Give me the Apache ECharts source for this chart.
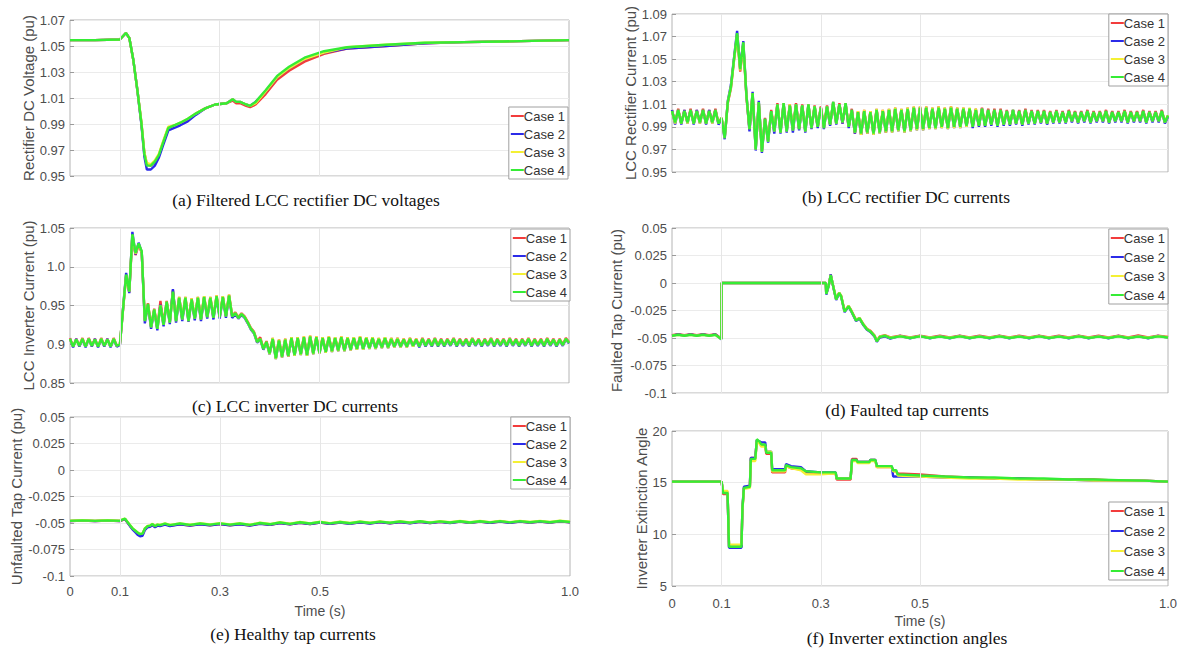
<!DOCTYPE html>
<html><head><meta charset="utf-8">
<script src="https://cdn.jsdelivr.net/npm/echarts@6.0.0/dist/echarts.min.js"></script>
<style>html,body{margin:0;padding:0;background:#fff}#c{width:1184px;height:653px}</style>
</head><body><div id="c"></div>
<script>
// ---------------- DATA ----------------
const CASES = ['Case 1', 'Case 2', 'Case 3', 'Case 4'];
const X_TICK_LABELS = ['0', '0.1', '0.3', '0.5', '1.0'];
const X_GRID = [0.1, 0.3, 0.5];
const Y_TICKS_A = ['0.95', '0.97', '0.99', '1.01', '1.03', '1.05', '1.07'];
const Y_TICKS_B = ['0.95', '0.97', '0.99', '1.01', '1.03', '1.05', '1.07', '1.09'];
const Y_TICKS_C = ['0.85', '0.9', '0.95', '1.0', '1.05'];
const Y_TICKS_D = ['-0.1', '-0.075', '-0.05', '-0.025', '0', '0.025', '0.05'];
const Y_TICKS_E = ['-0.1', '-0.075', '-0.05', '-0.025', '0', '0.025', '0.05'];
const Y_TICKS_F = ['5', '10', '15', '20'];
const Y_NAMES = ['Rectifier DC Voltage (pu)', 'LCC Rectifier Current (pu)', 'LCC Inverter Current (pu)',
  'Faulted Tap Current (pu)', 'Unfaulted Tap Current (pu)', 'Inverter Extinction Angle'];
const CAPTIONS = ['(a) Filtered LCC rectifier DC voltages', '(b) LCC rectifier DC currents',
  '(c) LCC inverter DC currents', '(d) Faulted tap currents', '(e) Healthy tap currents', '(f) Inverter extinction angles'];
const X_NAME = 'Time (s)';

// (a) rectifier DC voltage
const tA = [0,0.05,0.1,0.112,0.119,0.127,0.135,0.143,0.149,0.154,0.162,0.17,0.178,0.186,0.197,0.209,0.221,0.236,0.252,0.271,0.291,0.314,0.326,0.333,0.341,0.353,0.361,0.372,0.392,0.415,0.439,0.47,0.509,0.555,0.633,0.711,0.789,0.867,1.0];
const a1 = [1.0545,1.0545,1.055,1.060,1.056,1.039,1.016,0.991,0.968,0.959,0.958,0.961,0.966,0.975,0.987,0.989,0.990,0.993,0.998,1.002,1.005,1.006,1.008,1.006,1.006,1.004,1.003,1.005,1.013,1.024,1.031,1.038,1.044,1.048,1.050,1.052,1.053,1.0535,1.0545];
const a2 = [1.0545,1.0545,1.055,1.060,1.056,1.039,1.016,0.990,0.965,0.955,0.955,0.958,0.964,0.973,0.985,0.987,0.989,0.992,0.997,1.002,1.005,1.006,1.009,1.007,1.007,1.005,1.004,1.007,1.015,1.026,1.033,1.040,1.045,1.048,1.050,1.052,1.053,1.0535,1.0545];
const a3 = [1.0545,1.0545,1.055,1.060,1.056,1.039,1.016,0.992,0.968,0.960,0.959,0.962,0.967,0.976,0.988,0.989,0.991,0.994,0.998,1.002,1.005,1.006,1.009,1.007,1.007,1.005,1.004,1.006,1.015,1.026,1.033,1.040,1.045,1.049,1.051,1.0525,1.053,1.0535,1.0545];
const a4 = [1.0545,1.0545,1.055,1.060,1.056,1.039,1.016,0.991,0.967,0.958,0.958,0.961,0.966,0.975,0.987,0.989,0.991,0.994,0.998,1.002,1.005,1.006,1.009,1.007,1.007,1.005,1.004,1.007,1.016,1.027,1.034,1.041,1.046,1.049,1.051,1.0525,1.053,1.0535,1.0545];

// (b) and (c): sampled every DT_BC seconds from 0 to 1 s
const DT_BC = 0.00625;
const b1 = [1.005,0.994,1.006,0.993,1.005,0.994,1.006,0.993,1.005,0.994,1.006,0.993,1.005,0.994,1.006,0.993,
0.998,0.981,1.011,1.024,1.049,1.071,1.039,1.063,1.017,0.987,1.019,0.971,1.011,0.969,0.998,0.978,
1.005,0.987,1.011,0.986,1.010,0.987,1.010,0.988,1.011,0.988,1.010,0.987,1.009,0.989,1.009,0.990,
1.008,0.990,1.009,0.992,1.011,0.993,1.011,0.993,1.010,0.990,1.006,0.984,1.004,0.983,1.005,0.984,
1.004,0.984,1.006,0.985,1.005,0.985,1.006,0.986,1.007,0.987,1.006,0.986,1.007,0.987,1.008,0.988,
1.008,0.988,1.008,0.989,1.007,0.989,1.008,0.990,1.007,0.989,1.008,0.990,1.007,0.990,1.007,0.991,
1.006,0.991,1.006,0.991,1.007,0.991,1.006,0.992,1.006,0.991,1.006,0.992,1.005,0.992,1.005,0.993,
1.005,0.992,1.006,0.993,1.005,0.993,1.005,0.994,1.005,0.993,1.004,0.994,1.005,0.994,1.004,0.994,
1.005,0.995,1.004,0.994,1.004,0.995,1.005,0.994,1.004,0.995,1.004,0.995,1.005,0.994,1.004,0.995,
1.004,0.995,1.005,0.994,1.004,0.995,1.004,0.995,1.005,0.994,1.004,0.995,1.004,0.995,1.005,0.994,
1.000];
const b2 = [1.005,0.992,1.005,0.992,1.005,0.993,1.005,0.992,1.005,0.993,1.005,0.992,1.005,0.993,1.005,0.992,
0.997,0.979,1.013,1.027,1.051,1.075,1.042,1.066,1.019,0.986,1.021,0.969,1.013,0.967,0.997,0.976,
1.004,0.984,1.010,0.984,1.011,0.985,1.009,0.985,1.010,0.987,1.009,0.985,1.010,0.988,1.008,0.989,
1.007,0.988,1.008,0.991,1.012,0.992,1.010,0.993,1.011,0.989,1.005,0.984,1.003,0.983,1.004,0.984,
1.003,0.983,1.005,0.984,1.004,0.985,1.005,0.985,1.006,0.986,1.005,0.985,1.006,0.986,1.007,0.987,
1.007,0.987,1.007,0.988,1.006,0.988,1.007,0.989,1.006,0.988,1.007,0.989,1.006,0.989,1.006,0.990,
1.006,0.989,1.005,0.990,1.006,0.990,1.005,0.991,1.005,0.990,1.005,0.991,1.004,0.991,1.005,0.992,
1.004,0.991,1.005,0.992,1.004,0.992,1.004,0.993,1.004,0.992,1.003,0.993,1.004,0.993,1.003,0.993,
1.004,0.994,1.003,0.993,1.003,0.994,1.004,0.993,1.003,0.994,1.003,0.994,1.004,0.993,1.003,0.994,
1.003,0.994,1.004,0.993,1.003,0.994,1.003,0.994,1.004,0.993,1.003,0.994,1.003,0.994,1.004,0.993,
0.999];
const b3 = [1.004,0.993,1.005,0.993,1.004,0.993,1.005,0.993,1.004,0.993,1.005,0.993,1.004,0.993,1.005,0.993,
0.998,0.980,1.012,1.025,1.049,1.072,1.040,1.064,1.018,0.988,1.020,0.970,1.012,0.968,0.997,0.977,
1.004,0.986,1.010,0.985,1.011,0.986,1.010,0.987,1.010,0.988,1.009,0.986,1.010,0.989,1.008,0.990,
1.007,0.989,1.008,0.992,1.012,0.993,1.010,0.994,1.011,0.990,1.005,0.985,1.004,0.983,1.005,0.984,
1.004,0.983,1.006,0.984,1.005,0.985,1.006,0.985,1.007,0.986,1.006,0.985,1.007,0.986,1.008,0.987,
1.008,0.987,1.008,0.988,1.007,0.988,1.008,0.989,1.007,0.988,1.008,0.989,1.007,0.989,1.007,0.990,
1.007,0.990,1.006,0.991,1.006,0.991,1.005,0.992,1.005,0.991,1.005,0.992,1.004,0.992,1.005,0.993,
1.004,0.992,1.005,0.993,1.004,0.993,1.004,0.994,1.004,0.993,1.003,0.994,1.004,0.994,1.003,0.994,
1.004,0.995,1.003,0.994,1.003,0.995,1.004,0.994,1.003,0.995,1.003,0.995,1.004,0.994,1.003,0.995,
1.003,0.995,1.004,0.994,1.003,0.995,1.003,0.995,1.004,0.994,1.003,0.995,1.003,0.995,1.004,0.994,
1.000];
const b4 = [1.004,0.994,1.005,0.993,1.004,0.994,1.005,0.993,1.004,0.994,1.005,0.993,1.004,0.994,1.005,0.993,
0.998,0.980,1.012,1.025,1.050,1.073,1.041,1.065,1.018,0.988,1.020,0.970,1.012,0.968,0.997,0.977,
1.004,0.986,1.010,0.985,1.011,0.986,1.009,0.987,1.010,0.988,1.009,0.986,1.010,0.989,1.008,0.990,
1.007,0.989,1.008,0.992,1.012,0.993,1.010,0.994,1.011,0.990,1.005,0.985,1.003,0.984,1.004,0.985,
1.003,0.984,1.005,0.985,1.004,0.986,1.005,0.986,1.006,0.987,1.005,0.986,1.006,0.987,1.007,0.988,
1.007,0.988,1.007,0.989,1.006,0.989,1.007,0.990,1.006,0.989,1.007,0.990,1.006,0.990,1.006,0.991,
1.006,0.990,1.005,0.991,1.006,0.991,1.005,0.992,1.005,0.991,1.005,0.992,1.004,0.992,1.005,0.993,
1.004,0.992,1.005,0.993,1.004,0.993,1.004,0.994,1.004,0.993,1.003,0.994,1.004,0.994,1.003,0.994,
1.004,0.995,1.003,0.994,1.003,0.995,1.004,0.994,1.003,0.995,1.003,0.995,1.004,0.994,1.003,0.995,
1.003,0.995,1.004,0.994,1.003,0.995,1.003,0.995,1.004,0.994,1.003,0.995,1.003,0.995,1.004,0.994,
1.000];

const c1 = [0.908,0.897,0.907,0.898,0.908,0.897,0.908,0.898,0.907,0.897,0.908,0.898,0.907,0.897,0.908,0.898,
0.900,0.944,0.989,0.967,1.040,1.015,1.028,1.018,0.931,0.953,0.923,0.946,0.921,0.956,0.926,0.956,
0.929,0.970,0.931,0.961,0.933,0.961,0.931,0.959,0.934,0.961,0.933,0.962,0.936,0.961,0.935,0.963,
0.936,0.962,0.937,0.964,0.937,0.941,0.935,0.940,0.936,0.929,0.921,0.916,0.904,0.909,0.895,0.904,
0.889,0.908,0.883,0.906,0.885,0.907,0.884,0.909,0.887,0.909,0.888,0.910,0.887,0.911,0.889,0.910,
0.890,0.909,0.891,0.910,0.892,0.909,0.893,0.910,0.893,0.909,0.894,0.909,0.895,0.910,0.895,0.909,
0.896,0.909,0.896,0.908,0.897,0.909,0.897,0.908,0.898,0.908,0.898,0.907,0.898,0.908,0.899,0.907,
0.898,0.908,0.899,0.907,0.899,0.908,0.899,0.907,0.899,0.907,0.900,0.908,0.899,0.907,0.900,0.907,
0.899,0.908,0.900,0.907,0.899,0.907,0.900,0.908,0.899,0.907,0.900,0.907,0.899,0.908,0.900,0.907,
0.899,0.907,0.900,0.908,0.899,0.907,0.900,0.907,0.899,0.908,0.900,0.907,0.899,0.907,0.900,0.908,
0.903];
const c2 = [0.907,0.896,0.907,0.897,0.906,0.896,0.907,0.897,0.907,0.896,0.906,0.897,0.907,0.896,0.906,0.897,
0.899,0.946,0.992,0.966,1.045,1.016,1.031,1.019,0.927,0.951,0.920,0.944,0.918,0.951,0.923,0.954,
0.926,0.971,0.928,0.959,0.930,0.959,0.929,0.957,0.931,0.959,0.930,0.960,0.933,0.959,0.932,0.961,
0.933,0.960,0.934,0.962,0.934,0.939,0.933,0.938,0.934,0.927,0.919,0.914,0.902,0.906,0.893,0.902,
0.887,0.906,0.881,0.904,0.883,0.905,0.884,0.907,0.885,0.907,0.886,0.908,0.885,0.909,0.887,0.908,
0.888,0.907,0.889,0.908,0.890,0.907,0.891,0.908,0.891,0.907,0.892,0.907,0.893,0.908,0.893,0.907,
0.894,0.907,0.894,0.906,0.895,0.907,0.895,0.906,0.896,0.906,0.896,0.905,0.896,0.906,0.897,0.905,
0.896,0.906,0.897,0.905,0.897,0.906,0.897,0.905,0.897,0.905,0.898,0.906,0.897,0.905,0.898,0.905,
0.897,0.906,0.898,0.905,0.897,0.905,0.898,0.906,0.897,0.905,0.898,0.905,0.897,0.906,0.898,0.905,
0.897,0.905,0.898,0.906,0.897,0.905,0.898,0.905,0.897,0.906,0.898,0.905,0.897,0.905,0.898,0.906,
0.901];
const c3 = [0.907,0.897,0.906,0.898,0.907,0.897,0.907,0.898,0.906,0.897,0.907,0.898,0.906,0.897,0.907,0.898,
0.900,0.945,0.989,0.968,1.041,1.017,1.029,1.019,0.930,0.952,0.922,0.945,0.920,0.950,0.925,0.955,
0.928,0.967,0.930,0.961,0.932,0.961,0.930,0.959,0.933,0.961,0.932,0.962,0.935,0.961,0.934,0.963,
0.935,0.962,0.936,0.964,0.936,0.940,0.934,0.939,0.935,0.928,0.920,0.915,0.903,0.907,0.894,0.903,
0.887,0.908,0.881,0.906,0.883,0.907,0.884,0.909,0.885,0.909,0.886,0.910,0.885,0.911,0.887,0.910,
0.888,0.909,0.889,0.910,0.890,0.909,0.891,0.910,0.891,0.909,0.892,0.909,0.893,0.910,0.893,0.909,
0.894,0.909,0.894,0.908,0.895,0.909,0.895,0.908,0.896,0.908,0.896,0.907,0.896,0.908,0.897,0.907,
0.897,0.907,0.898,0.906,0.898,0.907,0.898,0.906,0.898,0.906,0.899,0.907,0.898,0.906,0.899,0.906,
0.898,0.907,0.899,0.906,0.898,0.906,0.899,0.907,0.898,0.906,0.899,0.906,0.898,0.907,0.899,0.906,
0.898,0.906,0.899,0.907,0.898,0.906,0.899,0.906,0.898,0.907,0.899,0.906,0.898,0.906,0.899,0.907,
0.902];
const c4 = [0.907,0.897,0.906,0.898,0.907,0.897,0.907,0.898,0.906,0.897,0.907,0.898,0.906,0.897,0.907,0.898,
0.900,0.945,0.990,0.968,1.042,1.018,1.030,1.020,0.930,0.952,0.922,0.945,0.920,0.950,0.925,0.955,
0.928,0.968,0.930,0.960,0.932,0.960,0.930,0.958,0.933,0.960,0.932,0.961,0.935,0.960,0.934,0.962,
0.935,0.961,0.936,0.963,0.936,0.940,0.934,0.939,0.935,0.928,0.920,0.915,0.903,0.907,0.894,0.903,
0.888,0.907,0.882,0.905,0.884,0.906,0.885,0.908,0.886,0.908,0.887,0.909,0.886,0.910,0.888,0.909,
0.889,0.908,0.890,0.909,0.891,0.908,0.892,0.909,0.892,0.908,0.893,0.908,0.894,0.909,0.894,0.908,
0.895,0.908,0.895,0.907,0.896,0.908,0.896,0.907,0.897,0.907,0.897,0.906,0.897,0.907,0.898,0.906,
0.897,0.907,0.898,0.906,0.898,0.907,0.898,0.906,0.898,0.906,0.899,0.907,0.898,0.906,0.899,0.906,
0.898,0.907,0.899,0.906,0.898,0.906,0.899,0.907,0.898,0.906,0.899,0.906,0.898,0.907,0.899,0.906,
0.898,0.906,0.899,0.907,0.898,0.906,0.899,0.906,0.898,0.907,0.899,0.906,0.898,0.906,0.899,0.907,
0.902];

// (d) faulted tap current
const tD = [0,0.0125,0.025,0.0375,0.05,0.0625,0.075,0.0875,0.0995,
0.1,0.2,0.31,
0.311,0.316,0.32,0.326,0.331,0.337,0.341,0.348,0.356,0.361,0.371,0.378,0.386,0.393,0.4,0.408,0.413,0.419,0.43,0.44,
0.46,0.48,0.5,0.52,0.54,0.56,0.58,0.6,0.62,0.64,0.66,0.68,0.7,0.72,0.74,0.76,0.78,0.8,0.82,0.84,0.86,0.88,0.9,0.92,0.94,0.96,0.98,1.0];
const d1 = [-0.0475,-0.0465,-0.0475,-0.0465,-0.0475,-0.0465,-0.0475,-0.0465,-0.0505,
0,0,0,
-0.010,-0.002,0.0075,-0.005,-0.0145,-0.009,-0.0115,-0.0255,-0.021,-0.0245,-0.0335,-0.032,-0.0375,-0.0415,-0.0435,-0.0475,-0.0525,-0.0485,-0.0475,-0.0495,
-0.0478,-0.0495,-0.0478,-0.0495,-0.0480,-0.0495,-0.0478,-0.0495,-0.0480,-0.0495,-0.0478,-0.0495,-0.0480,-0.0495,-0.0478,-0.0495,-0.0480,-0.0495,-0.0478,-0.0495,-0.0480,-0.0495,-0.0478,-0.0495,-0.0476,-0.0495,-0.0478,-0.0490];
const d2 = [-0.0478,-0.0468,-0.0478,-0.0468,-0.0478,-0.0468,-0.0478,-0.0468,-0.0512,
0,0,0,
-0.0105,-0.0025,0.008,-0.0055,-0.0155,-0.0095,-0.0125,-0.0265,-0.0215,-0.0255,-0.0345,-0.0325,-0.0385,-0.0425,-0.0445,-0.0485,-0.0535,-0.0495,-0.0485,-0.0505,
-0.0481,-0.0502,-0.0481,-0.0502,-0.0483,-0.0502,-0.0481,-0.0502,-0.0483,-0.0502,-0.0481,-0.0502,-0.0483,-0.0502,-0.0481,-0.0502,-0.0483,-0.0502,-0.0481,-0.0502,-0.0483,-0.0502,-0.0481,-0.0502,-0.0483,-0.0502,-0.0481,-0.0497];
const d3 = [-0.0478,-0.0472,-0.0478,-0.0472,-0.0478,-0.0472,-0.0478,-0.0472,-0.0508,
0,0,0,
-0.0095,-0.0018,0.0072,-0.0048,-0.0148,-0.0088,-0.0118,-0.0258,-0.0208,-0.0248,-0.0338,-0.0318,-0.0378,-0.0418,-0.0438,-0.0478,-0.0528,-0.0488,-0.0478,-0.0498,
-0.0483,-0.0498,-0.0483,-0.0498,-0.0485,-0.0498,-0.0483,-0.0498,-0.0485,-0.0498,-0.0483,-0.0498,-0.0485,-0.0498,-0.0483,-0.0498,-0.0485,-0.0498,-0.0483,-0.0498,-0.0485,-0.0498,-0.0483,-0.0498,-0.0485,-0.0498,-0.0483,-0.0493];
const d4 = [-0.048,-0.047,-0.048,-0.047,-0.048,-0.047,-0.048,-0.047,-0.051,
0,0,0,
-0.010,-0.002,0.007,-0.005,-0.015,-0.009,-0.012,-0.026,-0.021,-0.025,-0.034,-0.032,-0.038,-0.042,-0.044,-0.048,-0.053,-0.049,-0.048,-0.050,
-0.0485,-0.0500,-0.0485,-0.0500,-0.0487,-0.0500,-0.0485,-0.0500,-0.0487,-0.0500,-0.0485,-0.0500,-0.0487,-0.0500,-0.0485,-0.0500,-0.0487,-0.0500,-0.0485,-0.0500,-0.0487,-0.0500,-0.0485,-0.0500,-0.0487,-0.0500,-0.0485,-0.0495];

// (e) unfaulted tap current
const tE = [0,0.025,0.05,0.075,0.1,0.106,0.11,0.115,0.12,0.125,0.13,0.135,0.14,0.145,0.15,0.155,0.16,0.165,0.17,0.175,0.18,0.19,0.2,
0.22,0.24,0.26,0.28,0.3,0.32,0.34,0.36,0.38,0.4,
0.42,0.44,0.46,0.48,0.5,0.52,0.54,0.56,0.58,0.6,
0.62,0.64,0.66,0.68,0.7,0.72,0.74,0.76,0.78,0.8,
0.82,0.84,0.86,0.88,0.9,0.92,0.94,0.96,0.98,1.0];
const e1 = [-0.0482,-0.0478,-0.0482,-0.0478,-0.0482,-0.047,-0.0465,-0.0495,-0.0525,-0.0555,-0.0575,-0.0595,-0.061,-0.0605,-0.0555,-0.0535,-0.053,-0.0515,-0.0535,-0.052,-0.0525,-0.051,-0.0525,
-0.0512,-0.0523,-0.0511,-0.0521,-0.0509,-0.0521,-0.0511,-0.0523,-0.0506,-0.0517,
-0.0500,-0.0512,-0.0498,-0.0510,-0.0495,-0.0508,-0.0495,-0.0506,-0.0493,-0.0504,
-0.0491,-0.0502,-0.0490,-0.0501,-0.0488,-0.0500,-0.0489,-0.0499,-0.0487,-0.0499,
-0.0487,-0.0498,-0.0486,-0.0497,-0.0486,-0.0497,-0.0486,-0.0496,-0.0485,-0.0494];
const e2 = [-0.0481,-0.0477,-0.0481,-0.0477,-0.0481,-0.0468,-0.0463,-0.0495,-0.053,-0.056,-0.0585,-0.061,-0.0625,-0.062,-0.0565,-0.054,-0.0535,-0.052,-0.054,-0.0525,-0.053,-0.0515,-0.053,
-0.0512,-0.0525,-0.0512,-0.0522,-0.0510,-0.0522,-0.0512,-0.0524,-0.0507,-0.0518,
-0.0500,-0.0513,-0.0498,-0.0510,-0.0495,-0.0508,-0.0495,-0.0507,-0.0493,-0.0505,
-0.0491,-0.0503,-0.0490,-0.0502,-0.0488,-0.0500,-0.0489,-0.0500,-0.0487,-0.0499,
-0.0487,-0.0498,-0.0486,-0.0498,-0.0486,-0.0497,-0.0486,-0.0497,-0.0485,-0.0494];
const e3 = [-0.0479,-0.0474,-0.0479,-0.0474,-0.0479,-0.0464,-0.0459,-0.0488,-0.0518,-0.0548,-0.0568,-0.0588,-0.0602,-0.0598,-0.0548,-0.0528,-0.0523,-0.0508,-0.0528,-0.0513,-0.0518,-0.0503,-0.0518,
-0.0503,-0.0516,-0.0503,-0.0513,-0.0501,-0.0513,-0.0503,-0.0516,-0.0498,-0.0510,
-0.0493,-0.0506,-0.0491,-0.0503,-0.0488,-0.0501,-0.0488,-0.0500,-0.0486,-0.0498,
-0.0485,-0.0496,-0.0484,-0.0495,-0.0482,-0.0494,-0.0483,-0.0493,-0.0481,-0.0493,
-0.0481,-0.0492,-0.0480,-0.0492,-0.0480,-0.0491,-0.0480,-0.0491,-0.0479,-0.0488];
const e4 = [-0.048,-0.0475,-0.048,-0.0475,-0.048,-0.0465,-0.046,-0.049,-0.052,-0.055,-0.057,-0.059,-0.0605,-0.060,-0.055,-0.053,-0.0525,-0.051,-0.053,-0.0515,-0.052,-0.0505,-0.052,
-0.0505,-0.0518,-0.0505,-0.0515,-0.0503,-0.0515,-0.0505,-0.0518,-0.0500,-0.0512,
-0.0495,-0.0508,-0.0493,-0.0505,-0.0490,-0.0503,-0.0490,-0.0502,-0.0488,-0.0500,
-0.0487,-0.0498,-0.0486,-0.0497,-0.0484,-0.0496,-0.0485,-0.0495,-0.0483,-0.0495,
-0.0483,-0.0494,-0.0482,-0.0494,-0.0482,-0.0493,-0.0482,-0.0493,-0.0481,-0.0490];

// (f) inverter extinction angle
const tF = [0,0.1,0.103,0.112,0.115,0.14,0.142,0.145,0.157,0.159,0.168,0.171,0.176,0.18,0.188,0.19,0.2,0.202,0.228,0.23,0.24,0.26,0.27,0.3,0.33,0.332,0.36,0.363,0.372,0.374,0.398,0.4,0.41,0.413,0.443,0.446,0.452,0.455,0.5,0.55,0.6,0.65,0.7,0.75,0.8,0.85,0.9,0.95,1.0];
const f1 = [15.1,15.1,13.9,13.9,8.8,8.8,12.4,14.5,14.6,17.4,17.4,19.1,18.9,18.6,18.6,17.8,17.8,16.0,16.0,16.6,16.4,16.3,16.0,15.9,15.9,15.3,15.3,17.3,17.3,17.0,17.0,17.2,17.2,16.5,16.5,16.1,16.1,15.9,15.8,15.6,15.5,15.4,15.4,15.3,15.3,15.3,15.2,15.2,15.1];
const f2 = [15.1,15.1,14.1,14.1,8.7,8.7,12.6,14.6,14.7,17.4,17.4,19.1,19.0,18.9,18.9,18.0,18.0,16.3,16.3,16.8,16.6,16.5,16.1,16.0,16.0,15.4,15.4,17.2,17.2,17.0,17.0,17.2,17.2,16.6,16.6,15.6,15.6,15.6,15.6,15.5,15.5,15.4,15.4,15.3,15.3,15.2,15.2,15.2,15.1];
const f3 = [15.1,15.1,14.2,14.2,9.0,9.0,12.4,14.4,14.5,17.1,17.1,19.0,18.8,18.5,18.5,18.0,18.0,16.1,16.1,16.6,16.4,16.2,15.8,15.8,15.9,15.4,15.4,17.1,17.1,16.9,16.9,17.1,17.1,16.5,16.5,16.1,16.1,15.7,15.6,15.5,15.4,15.4,15.3,15.3,15.3,15.2,15.2,15.2,15.1];
const f4 = [15.1,15.1,14.0,14.0,8.8,8.8,12.5,14.5,14.6,17.3,17.3,19.2,19.0,18.7,18.7,17.9,17.9,16.2,16.2,16.7,16.5,16.4,16.1,16.0,16.0,15.4,15.4,17.2,17.2,17.0,17.0,17.2,17.2,16.6,16.6,16.2,16.2,15.8,15.7,15.6,15.5,15.5,15.4,15.4,15.3,15.3,15.25,15.2,15.1];

// ---------------- STYLE / LAYOUT ----------------
const COLORS = ['#f23c3c', '#2b2be8', '#f4f034', '#35ec35'];
const SANS = '"Liberation Sans", Arial, Helvetica, sans-serif';
const SERIF = '"Liberation Serif", "Times New Roman", serif';
const GRIDS = [
  {left: 70, top: 20, width: 499, height: 156},
  {left: 672, top: 14, width: 496, height: 158},
  {left: 70, top: 228, width: 499, height: 155},
  {left: 672, top: 228, width: 496, height: 165},
  {left: 70, top: 417, width: 500, height: 159},
  {left: 672, top: 431, width: 496, height: 155}
];
const Y_RANGE = [[0.95, 1.07, 0.02], [0.95, 1.09, 0.02], [0.85, 1.05, 0.05], [-0.1, 0.05, 0.025], [-0.1, 0.05, 0.025], [5, 20, 5]];
const Y_TICKS = [Y_TICKS_A, Y_TICKS_B, Y_TICKS_C, Y_TICKS_D, Y_TICKS_E, Y_TICKS_F];
const Y_NAME_GAP = [34, 33, 29, 48, 43, 19];
const LEGEND_POS = [
  {right: 616, top: 107, gap: 4},
  {right: 16, top: 14, gap: 4},
  {right: 614, top: 229, gap: 4},
  {right: 16, top: 229, gap: 5},
  {right: 614, top: 417, gap: 4},
  {right: 16, top: 502, gap: 6}
];
const CAPTION_POS = [[306, 200], [906, 197], [295, 406], [907, 410], [293, 634], [907, 638]];

function fmt(labels) {
  const vals = labels.map(Number);
  return v => { for (let k = 0; k < vals.length; k++) if (Math.abs(vals[k] - v) < 1e-6) return labels[k]; return ''; };
}
function pairs(t, v) { return t.map((x, i) => [x, v[i]]); }

const T_BC = b4.map((_, i) => +(i * DT_BC).toFixed(5));
const PANEL_DATA = [
  [tA, [a1, a2, a3, a4]],
  [T_BC, [b1, b2, b3, b4]],
  [T_BC, [c1, c2, c3, c4]],
  [tD, [d1, d2, d3, d4]],
  [tE, [e1, e2, e3, e4]],
  [tF, [f1, f2, f3, f4]]
];

const grid = [], xAxis = [], yAxis = [], series = [], legend = [];
GRIDS.forEach((g, i) => {
  grid.push(Object.assign({show: true, borderColor: '#b4b4b4', borderWidth: 1, backgroundColor: '#fff', containLabel: false}, g));
  const hasX = i >= 4;
  xAxis.push({
    gridIndex: i, type: 'value', min: 0, max: 1, interval: 0.1,
    axisLine: {show: false}, splitLine: {show: false},
    axisTick: {show: true, inside: true, length: 4, customValues: X_GRID, lineStyle: {color: '#9a9a9a'}},
    axisLabel: {show: hasX, customValues: X_TICK_LABELS.map(Number), formatter: fmt(X_TICK_LABELS),
      color: '#4d4d4d', fontSize: 13, fontFamily: SANS, margin: i === 4 ? 9 : 11},
    name: hasX ? X_NAME : '', nameLocation: 'middle', nameGap: i === 4 ? 28 : 28,
    nameTextStyle: {color: '#4d4d4d', fontSize: 14, fontFamily: SANS}
  });
  const yr = Y_RANGE[i];
  yAxis.push({
    gridIndex: i, type: 'value', min: yr[0], max: yr[1], interval: yr[2],
    axisLine: {show: false},
    axisTick: {show: true, inside: true, length: 4, lineStyle: {color: '#9a9a9a'}},
    splitLine: {show: true, lineStyle: {color: '#ebebeb', width: 1}},
    axisLabel: {formatter: fmt(Y_TICKS[i]), color: '#4d4d4d', fontSize: 13, fontFamily: SANS, margin: 5},
    name: Y_NAMES[i], nameLocation: 'middle', nameGap: Y_NAME_GAP[i], nameRotate: 90,
    nameTextStyle: {color: '#4d4d4d', fontSize: 15, fontFamily: SANS}
  });
  // vertical grid lines at selected times
  series.push({
    type: 'line', xAxisIndex: i, yAxisIndex: i, data: [], silent: true, z: 1, animation: false,
    markLine: {silent: true, symbol: ['none', 'none'], animation: false, label: {show: false},
      lineStyle: {color: '#e6e6e6', type: 'solid', width: 1},
      data: X_GRID.map(x => ({xAxis: x}))}
  });
  const [t, cs] = PANEL_DATA[i];
  cs.forEach((v, k) => {
    series.push({
      type: 'line', name: CASES[k], xAxisIndex: i, yAxisIndex: i, data: pairs(t, v),
      symbol: 'none', showSymbol: false, animation: false, silent: true, z: 3,
      lineStyle: {width: 2.4, color: COLORS[k]}, itemStyle: {color: COLORS[k]}
    });
  });
  const lp = LEGEND_POS[i];
  legend.push({
    orient: 'vertical', right: lp.right, top: lp.top, itemGap: lp.gap, data: CASES,
    selectedMode: false, backgroundColor: '#fff', borderColor: '#a0a0a0', borderWidth: 1,
    borderRadius: 0, padding: [2, 3, 2, 2], icon: 'rect', itemWidth: 13, itemHeight: 2,
    textStyle: {fontFamily: SANS, fontSize: 13, color: '#333', lineHeight: 14, padding: [0, 0, 0, -5]}
  });
});

const graphic = CAPTIONS.map((c, i) => ({
  type: 'text', x: CAPTION_POS[i][0], y: CAPTION_POS[i][1], silent: true,
  style: {text: c, fill: '#111', font: '17.5px ' + SERIF, align: 'center', verticalAlign: 'middle'}
}));

const chart = echarts.init(document.getElementById('c'), null, {renderer: 'svg'});
chart.setOption({animation: false, backgroundColor: '#fff', grid, xAxis, yAxis, series, legend, graphic});
</script></body></html>
